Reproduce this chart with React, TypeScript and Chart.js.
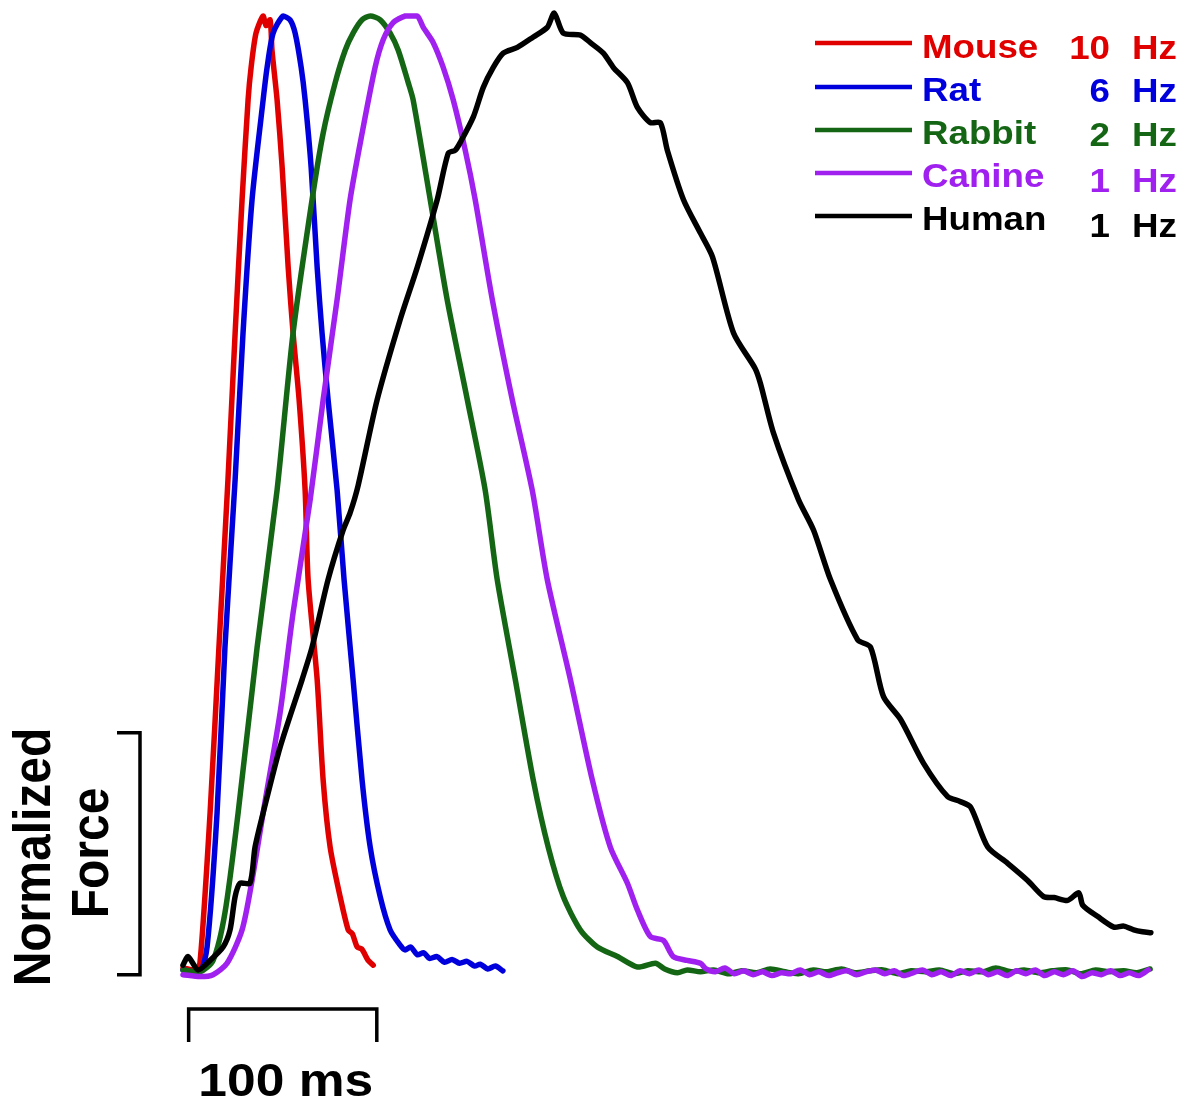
import React, { useEffect, useRef } from 'react';
import { Chart, registerables } from 'chart.js';

Chart.register(...registerables);

// ---- Data (time in ms, force normalized to peak) ----
const SERIES_NAMES = ['Mouse', 'Rat', 'Rabbit', 'Canine', 'Human'];
const SERIES_RATES = ['10', '6', '2', '1', '1'];
const SERIES_COLORS = ['#e00000', '#0000dd', '#146614', '#a020f0', '#000000'];

const MOUSE: number[][] = [
  [0, 0], [6.4, -0.002], [9, 0.005], [14.4, 0.163], [19.1, 0.337], [23.9, 0.513], [27.7, 0.667],
  [31.4, 0.807], [34.6, 0.912], [36.2, 0.946], [38.8, 0.982], [42.6, 1.0], [44.1, 0.99], [46.3, 0.996],
  [47.3, 0.964], [50, 0.912], [52.7, 0.841], [55.9, 0.736], [58.5, 0.667], [61.7, 0.597], [64.9, 0.502],
  [66.5, 0.408], [71.3, 0.303], [74.5, 0.197], [78.2, 0.127], [83.5, 0.075], [87.8, 0.04], [90, 0.036],
  [92.6, 0.022], [95, 0.02], [98.4, 0.008], [101.1, 0.003],
];

const RAT: number[][] = [
  [0, -0.002], [9, -0.004], [12.8, 0.022], [18.1, 0.163], [22.3, 0.337], [27.7, 0.513], [31.9, 0.667],
  [36.7, 0.807], [42.6, 0.912], [44.7, 0.946], [47.9, 0.982], [53.2, 1.0], [56.9, 0.996], [59.6, 0.982],
  [62.8, 0.946], [64.9, 0.912], [68.1, 0.841], [71.3, 0.736], [73.9, 0.667], [77.1, 0.597], [81.9, 0.502],
  [85.6, 0.408], [90.4, 0.303], [95.2, 0.197], [99.5, 0.127], [104.8, 0.075], [110.1, 0.04], [115.4, 0.024],
  [118, 0.019], [121, 0.022], [124.5, 0.014], [128, 0.016], [131, 0.01], [135, 0.012], [139, 0.006],
  [143, 0.009], [147, 0.005], [151, 0.007], [155, 0.002], [158, 0.004], [162, -0.001], [166, 0.002],
  [170, -0.003],
];

const RABBIT: number[][] = [
  [0, -0.002], [9, -0.004], [16, 0.008], [22.3, 0.058], [29.3, 0.163], [39.4, 0.337], [50, 0.502],
  [58.5, 0.667], [68.6, 0.807], [74.5, 0.877], [80.9, 0.93], [86.2, 0.964], [90.4, 0.982], [95.2, 0.996],
  [99.5, 1.0], [104.8, 0.996], [110.1, 0.982], [114.4, 0.964], [119.7, 0.93], [122.3, 0.912], [131.4, 0.807],
  [140.4, 0.702], [151.1, 0.597], [160.6, 0.502], [167, 0.408], [176.6, 0.303], [186.2, 0.197],
  [194.1, 0.127], [202.1, 0.075], [211.2, 0.04], [220.2, 0.022], [230.9, 0.012], [241.5, 0.001],
  [251.1, 0.005], [256, -0.001], [262.8, -0.005], [268, -0.002], [275, -0.004], [282, -0.002],
  [290, -0.006], [297, -0.003], [305, -0.005], [312, -0.001], [320, -0.004], [327, -0.006], [335, -0.002],
  [342, -0.004], [350, -0.001], [357, -0.005], [365, -0.003], [372, -0.002], [380, -0.006], [387, -0.003],
  [395, -0.004], [402, -0.002], [410, -0.006], [417, -0.003], [425, -0.004], [432, 0.0], [440, -0.004],
  [447, -0.002], [455, -0.005], [462, -0.003], [470, -0.002], [477, -0.006], [485, -0.002], [492, -0.004],
  [500, -0.003], [507, -0.005], [514, -0.001],
];

const CANINE: number[][] = [
  [0, -0.007], [9, -0.009], [16, -0.007], [23.4, 0.005], [31.4, 0.04], [36.7, 0.092], [42.6, 0.163],
  [51.6, 0.268], [58.5, 0.373], [67.6, 0.492], [74.5, 0.597], [81.9, 0.702], [88.8, 0.807], [95.2, 0.877],
  [102.1, 0.946], [106.4, 0.975], [111.7, 0.993], [118.1, 1.0], [124.5, 1.0], [127.7, 0.988],
  [133, 0.972], [138.3, 0.946], [143.6, 0.912], [150, 0.859], [155.3, 0.807], [164.4, 0.702],
  [175, 0.597], [185.6, 0.502], [193.6, 0.408], [205.9, 0.303], [217.6, 0.197], [227.1, 0.127],
  [236.2, 0.089], [241.5, 0.061], [248.4, 0.033], [255.3, 0.029], [260.6, 0.012], [268, 0.008],
  [275, 0.005], [278, -0.001], [283, -0.004], [288, 0.0], [293, -0.006], [298, -0.003], [303, -0.007],
  [308, -0.004], [313, -0.008], [318, -0.005], [323, -0.006], [328, -0.002], [333, -0.007], [338, -0.004],
  [343, -0.008], [348, -0.005], [353, -0.003], [358, -0.007], [363, -0.004], [368, -0.002], [373, -0.006],
  [378, -0.003], [383, -0.008], [388, -0.005], [393, -0.002], [398, -0.007], [403, -0.004], [408, -0.008],
  [413, -0.003], [418, -0.006], [423, -0.002], [428, -0.007], [433, -0.004], [438, -0.008], [443, -0.003],
  [448, -0.006], [453, -0.002], [458, -0.008], [463, -0.004], [468, -0.007], [473, -0.003], [478, -0.009],
  [483, -0.005], [488, -0.007], [493, -0.003], [498, -0.008], [503, -0.005], [508, -0.008], [513, -0.002],
];

const HUMAN: number[][] = [
  [0, 0.003], [2.7, 0.012], [8, -0.002], [14.4, 0.008], [21.3, 0.022], [25, 0.04], [27.7, 0.075],
  [30.3, 0.089], [35.6, 0.089], [38.3, 0.127], [42.6, 0.163], [51.6, 0.232], [63.3, 0.303], [68.6, 0.337],
  [77.1, 0.408], [85.1, 0.46], [88.8, 0.478], [93.1, 0.507], [103.2, 0.597], [115.4, 0.681],
  [124.5, 0.736], [135.1, 0.807], [141, 0.856], [144.7, 0.859], [147.3, 0.867], [154.3, 0.894],
  [159.6, 0.925], [164.9, 0.946], [170.2, 0.961], [177.7, 0.967], [186.2, 0.978], [193.6, 0.988],
  [197.3, 1.003], [202.1, 0.982], [211.2, 0.98], [216.5, 0.972], [223.4, 0.961], [228.7, 0.946],
  [236.2, 0.93], [241.5, 0.904], [248.4, 0.888], [253.7, 0.888], [257.4, 0.859], [266, 0.807],
  [275, 0.772], [281.4, 0.747], [292.6, 0.667], [304, 0.63], [306.9, 0.614], [313.8, 0.562],
  [327.1, 0.492], [335.1, 0.46], [344.1, 0.408], [358.5, 0.345], [365.4, 0.337], [372.3, 0.285],
  [381.4, 0.261], [393.6, 0.215], [406.4, 0.18], [413, 0.175], [418.6, 0.169], [427.7, 0.127],
  [438.3, 0.11], [448.9, 0.092], [457.4, 0.075], [463, 0.074], [470.2, 0.071], [476.1, 0.079],
  [478.2, 0.066], [486.2, 0.054], [494.7, 0.043], [500, 0.044], [505.3, 0.04], [510, 0.038], [514.4, 0.037],
];

const SERIES_DATA = [MOUSE, RAT, RABBIT, CANINE, HUMAN];

const X_MAX = 515; // ms
const TIME_BAR = [3, 103]; // ms (100 ms)
const TIME_BAR_LABEL = '100 ms';
const FORCE_BAR = [-0.007, 0.247]; // normalized force
const FORCE_LABEL = ['Normalized', 'Force'];

const FONT = '"Liberation Sans", Arial, sans-serif';

function stretchedText(ctx: CanvasRenderingContext2D, text: string, x: number, y: number, sx: number) {
  ctx.save();
  ctx.translate(x, y);
  ctx.scale(sx, 1);
  ctx.fillText(text, 0, 0);
  ctx.restore();
}

const overlayPlugin = {
  id: 'overlay',
  afterDraw(chart: any) {
    const { ctx, scales } = chart;
    const xs = scales.x;
    const ys = scales.y;
    ctx.save();

    // Legend
    const lineY = [43, 87, 130, 173, 216];
    const nameBase = [58, 101, 144, 187, 230];
    const rateBase = [59, 102, 146, 192, 237];
    SERIES_NAMES.forEach((name, i) => {
      const c = SERIES_COLORS[i];
      ctx.strokeStyle = c;
      ctx.lineWidth = 4.5;
      ctx.lineCap = 'butt';
      ctx.beginPath();
      ctx.moveTo(815, lineY[i]);
      ctx.lineTo(912, lineY[i]);
      ctx.stroke();
      ctx.fillStyle = c;
      ctx.font = `bold 34px ${FONT}`;
      ctx.textBaseline = 'alphabetic';
      ctx.textAlign = 'left';
      stretchedText(ctx, name, 922, nameBase[i], 1.08);
      ctx.textAlign = 'right';
      stretchedText(ctx, SERIES_RATES[i], 1110, rateBase[i], 1.08);
      ctx.textAlign = 'left';
      stretchedText(ctx, 'Hz', 1132, rateBase[i], 1.08);
    });

    // Force scale bar
    ctx.strokeStyle = '#000';
    ctx.lineWidth = 3.5;
    ctx.lineCap = 'butt';
    ctx.lineJoin = 'miter';
    const fTop = ys.getPixelForValue(FORCE_BAR[1]);
    const fBot = ys.getPixelForValue(FORCE_BAR[0]);
    ctx.beginPath();
    ctx.moveTo(117, fTop);
    ctx.lineTo(140, fTop);
    ctx.lineTo(140, fBot);
    ctx.lineTo(117, fBot);
    ctx.stroke();

    // Time scale bar
    const tL = xs.getPixelForValue(TIME_BAR[0]);
    const tR = xs.getPixelForValue(TIME_BAR[1]);
    ctx.beginPath();
    ctx.moveTo(tL, 1042);
    ctx.lineTo(tL, 1009);
    ctx.lineTo(tR, 1009);
    ctx.lineTo(tR, 1042);
    ctx.stroke();

    ctx.fillStyle = '#000';
    ctx.font = `bold 46px ${FONT}`;
    ctx.textAlign = 'center';
    ctx.textBaseline = 'alphabetic';
    stretchedText(ctx, TIME_BAR_LABEL, (tL + tR) / 2 + 3, 1096, 1.12);

    // Force label (rotated)
    ctx.font = `bold 48px ${FONT}`;
    const labelPos = [
      [50, 857],
      [108, 853],
    ];
    FORCE_LABEL.forEach((t, i) => {
      ctx.save();
      ctx.translate(labelPos[i][0], labelPos[i][1]);
      ctx.rotate(-Math.PI / 2);
      ctx.scale(1, 1.08);
      ctx.textAlign = 'center';
      ctx.fillText(t, 0, 0);
      ctx.restore();
    });

    ctx.restore();
  },
};

export default function App() {
  const canvasRef = useRef<HTMLCanvasElement | null>(null);

  useEffect(() => {
    const canvas = canvasRef.current;
    if (!canvas) return;
    const drawOrder = [4, 3, 2, 1, 0];
    const chart = new Chart(canvas, {
      type: 'line',
      data: {
        datasets: SERIES_NAMES.map((name, i) => ({
          label: name,
          data: SERIES_DATA[i].map(([x, y]) => ({ x, y })),
          borderColor: SERIES_COLORS[i],
          backgroundColor: SERIES_COLORS[i],
          borderWidth: 5.5,
          pointRadius: 0,
          tension: 0.25,
          fill: false,
          clip: false as any,
          borderJoinStyle: 'round' as const,
          borderCapStyle: 'round' as const,
          order: drawOrder[i],
        })),
      },
      options: {
        responsive: false,
        animation: false,
        devicePixelRatio: 1,
        layout: { padding: { left: 183, right: 30, top: 16, bottom: 140 } },
        scales: {
          x: { type: 'linear', min: 0, max: X_MAX, display: false },
          y: { type: 'linear', min: 0, max: 1, display: false },
        },
        plugins: {
          legend: { display: false },
          tooltip: { enabled: false },
        },
        events: [],
      },
      plugins: [overlayPlugin],
    });
    return () => chart.destroy();
  }, []);

  return (
    <div style={{ position: 'absolute', left: 0, top: 0, width: 1182, height: 1108, background: '#fff' }}>
      <canvas ref={canvasRef} width={1182} height={1108} style={{ display: 'block' }} />
    </div>
  );
}
